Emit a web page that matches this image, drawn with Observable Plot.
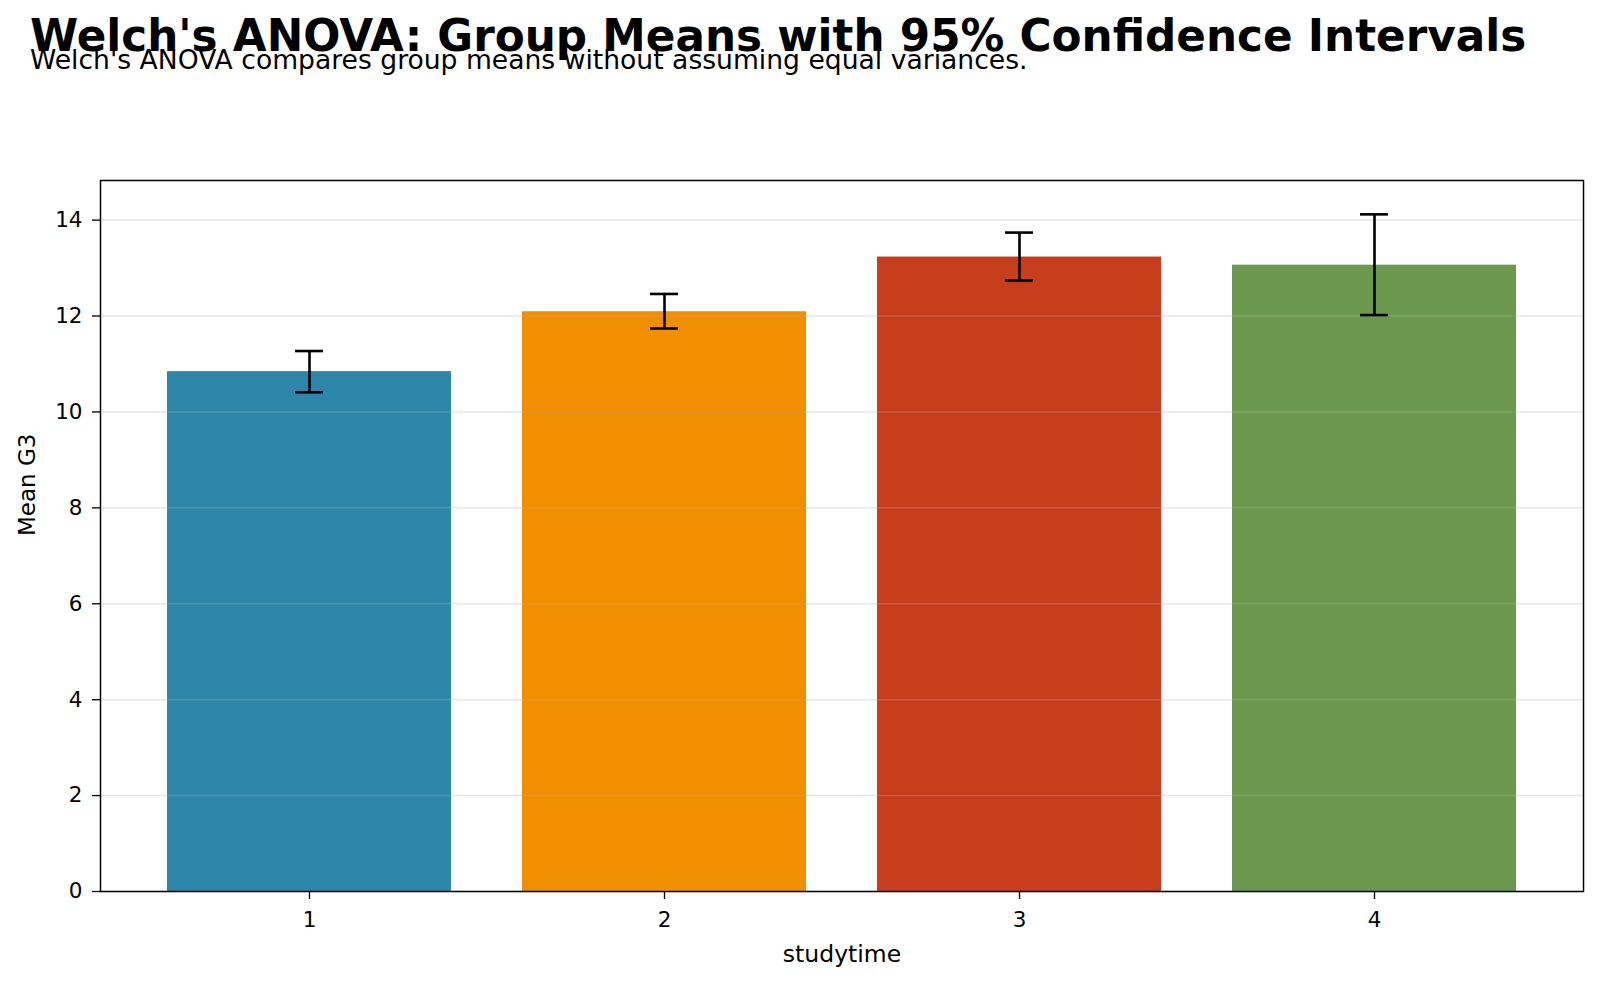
<!DOCTYPE html>
<html>
<head>
<meta charset="utf-8">
<script src="https://cdn.jsdelivr.net/npm/d3@7"></script>
<script src="https://cdn.jsdelivr.net/npm/@observablehq/plot@0.6"></script>
<style>
  html, body { margin: 0; padding: 0; background: white; }
  #wrap { position: relative; width: 1600px; height: 984px; font-family: "DejaVu Sans", sans-serif; }
  #title { position: absolute; left: 30px; top: 14px; font-size: 43.7px; font-weight: bold; line-height: 1; white-space: nowrap; color: #000; }
  #subtitle { position: absolute; left: 30px; top: 47px; font-size: 26.6px; line-height: 1; white-space: nowrap; color: #000; }
  #chart { position: absolute; left: 0; top: 0; }
</style>
</head>
<body>
<div id="wrap">
  <div id="chart"></div>
  <div id="title">Welch's ANOVA: Group Means with 95% Confidence Intervals</div>
  <div id="subtitle">Welch's ANOVA compares group means without assuming equal variances.</div>
</div>
<script>
// Mean final grade (G3) per weekly study-time group, with 95% confidence intervals
const groups = ["1", "2", "3", "4"];
const means = [10.84, 12.09, 13.23, 13.06];
const ciLow = [10.41, 11.74, 12.74, 12.02];
const ciHigh = [11.27, 12.46, 13.74, 14.12];
const colors = ["#2E86AB", "#F18F01", "#C73E1D", "#6A994E"];
const yTicks = [0, 2, 4, 6, 8, 10, 12, 14];

const rows = groups.map((g, i) => ({group: g, mean: means[i], lo: ciLow[i], hi: ciHigh[i]}));
const yMax = d3.max(ciHigh) * 1.05;

const chart = Plot.plot({
  width: 1600,
  height: 984,
  marginTop: 180,
  marginRight: 17,
  marginBottom: 93,
  marginLeft: 100,
  style: {fontFamily: "DejaVu Sans", fontSize: "21.5px", color: "black", background: "transparent"},
  x: {domain: groups, paddingInner: 0.2, paddingOuter: 0.185},
  y: {domain: [0, yMax]},
  color: {domain: groups, range: colors},
  marks: [
    Plot.barY(rows, {x: "group", y: "mean", fill: "group"}),
    Plot.gridY(yTicks, {stroke: "#b0b0b0", strokeOpacity: 0.3, strokeWidth: 1.5}),
    Plot.ruleX(rows, {x: "group", y1: "lo", y2: "hi", stroke: "black", strokeWidth: 2.6}),
    Plot.tickY(rows, {x: "group", y: "lo", stroke: "black", strokeWidth: 2.6, insetLeft: 128, insetRight: 128}),
    Plot.tickY(rows, {x: "group", y: "hi", stroke: "black", strokeWidth: 2.6, insetLeft: 128, insetRight: 128}),
    Plot.frame({stroke: "black", strokeWidth: 1.5}),
    Plot.axisX({tickSize: 8, tickPadding: 12, label: null, stroke: "black", strokeWidth: 1.3}),
    Plot.axisY({ticks: yTicks, tickSize: 8, tickPadding: 10, label: null, stroke: "black", strokeWidth: 1.3}),
    Plot.text(["studytime"], {frameAnchor: "bottom", dy: 70, fontSize: 23.5, fill: "black"}),
    Plot.text(["Mean G3"], {frameAnchor: "left", dx: -73, rotate: -90, fontSize: 23, fill: "black"})
  ]
});
document.getElementById("chart").appendChild(chart);
</script>
</body>
</html>
